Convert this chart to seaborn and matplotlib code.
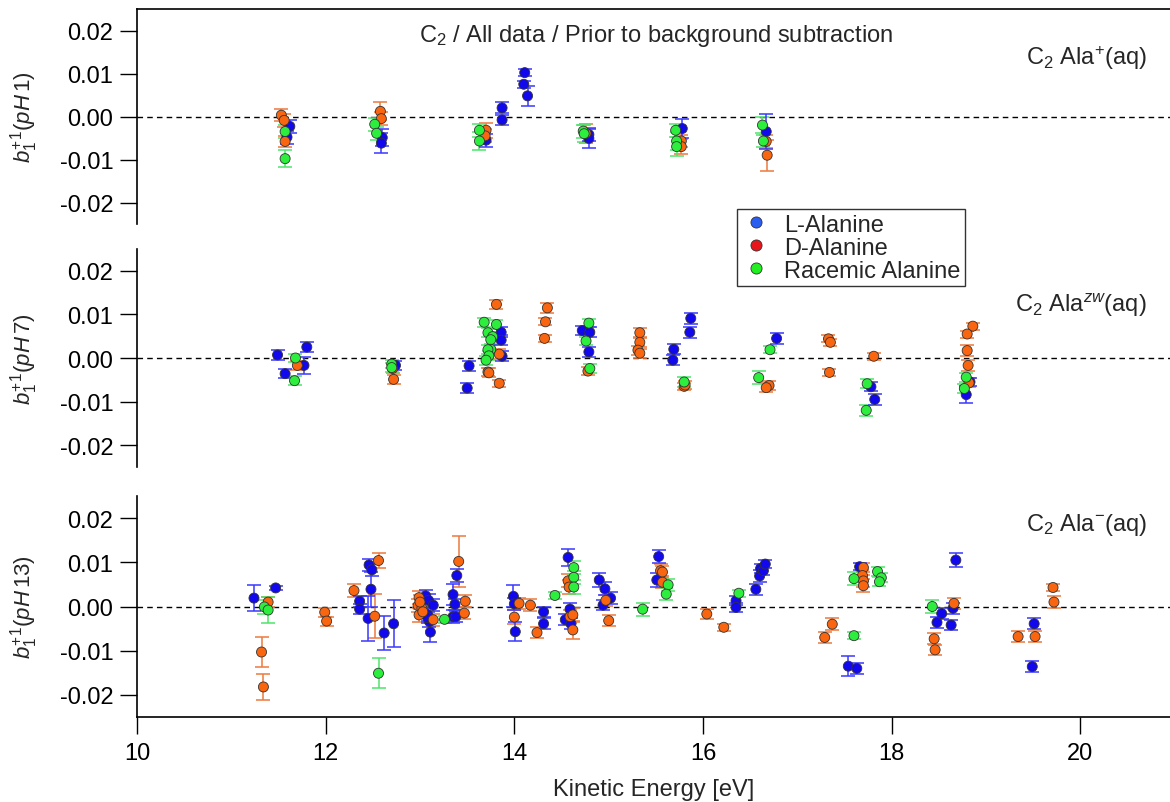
import matplotlib
matplotlib.use("Agg")
import matplotlib.pyplot as plt
from matplotlib.lines import Line2D
import seaborn as sns
import pandas as pd

# ---------------- data: (kinetic energy [eV], b1, error) ----------------
L_PH1 = [(11.62, -0.0023, 0.0015), (11.59, -0.0048, 0.0015), (12.60, -0.0049, 0.0020),
         (12.59, -0.0062, 0.0023), (13.70, -0.0055, 0.0015), (13.87, 0.0020, 0.0013),
         (13.87, -0.0008, 0.0012), (14.11, 0.0102, 0.0008), (14.10, 0.0075, 0.0008),
         (14.14, 0.0048, 0.0023), (14.79, -0.0042, 0.0015), (14.79, -0.0051, 0.0022),
         (15.78, -0.0028, 0.0022), (16.67, -0.0035, 0.0040)]
D_PH1 = [(11.53, 0.0003, 0.0014), (11.56, -0.0009, 0.0015), (11.57, -0.0058, 0.0012),
         (12.58, 0.0012, 0.0021), (12.59, -0.0005, 0.0015), (13.70, -0.0032, 0.0018),
         (13.69, -0.0045, 0.0015), (14.76, -0.0039, 0.0022), (15.77, -0.0057, 0.0015),
         (15.77, -0.0070, 0.0018), (16.67, -0.0058, 0.0015), (16.68, -0.0090, 0.0036)]
G_PH1 = [(11.57, -0.0035, 0.0015), (11.57, -0.0098, 0.0020), (12.52, -0.0018, 0.0015),
         (12.54, -0.0039, 0.0015), (13.63, -0.0032, 0.0015), (13.63, -0.0057, 0.0020),
         (14.73, -0.0034, 0.0015), (14.74, -0.0040, 0.0020), (15.71, -0.0032, 0.0015),
         (15.72, -0.0057, 0.0020), (15.72, -0.0070, 0.0022), (16.63, -0.0020, 0.0018),
         (16.64, -0.0057, 0.0015)]

L_PH7 = [(11.49, 0.0007, 0.0011), (11.57, -0.0036, 0.0011), (11.77, -0.0017, 0.0020),
         (11.80, 0.0025, 0.0011), (12.74, -0.0017, 0.0011), (13.52, -0.0018, 0.0011),
         (13.50, -0.0069, 0.0011), (13.86, 0.0059, 0.0011), (13.86, 0.0041, 0.0011),
         (13.87, 0.0004, 0.0011), (14.72, 0.0063, 0.0011), (14.80, 0.0059, 0.0011),
         (14.79, 0.0014, 0.0011), (15.69, 0.0020, 0.0011), (15.68, -0.0005, 0.0011),
         (15.87, 0.0091, 0.0012), (15.86, 0.0059, 0.0013), (16.78, 0.0045, 0.0013),
         (17.78, -0.0066, 0.0010), (17.82, -0.0095, 0.0012), (18.83, -0.0055, 0.0010),
         (18.79, -0.0084, 0.0020)]
D_PH7 = [(11.70, -0.0017, 0.0011), (12.71, -0.0024, 0.0010), (12.72, -0.0049, 0.0010),
         (13.81, 0.0123, 0.0010), (13.84, 0.0009, 0.0012), (13.72, -0.0032, 0.0010),
         (13.73, -0.0034, 0.0010), (13.84, -0.0058, 0.0008), (14.35, 0.0115, 0.0012),
         (14.33, 0.0083, 0.0008), (14.32, 0.0045, 0.0008), (14.78, -0.0030, 0.0010),
         (15.33, 0.0058, 0.0010), (15.33, 0.0036, 0.0010), (15.31, 0.0018, 0.0010),
         (15.33, 0.0011, 0.0010), (15.80, -0.0065, 0.0008), (15.81, -0.0062, 0.0010),
         (16.70, -0.0063, 0.0010), (16.67, -0.0068, 0.0010), (17.33, 0.0044, 0.0008),
         (17.35, 0.0036, 0.0008), (17.34, -0.0033, 0.0008), (17.81, 0.0004, 0.0008),
         (18.86, 0.0073, 0.0008), (18.80, 0.0055, 0.0008), (18.80, 0.0017, 0.0012),
         (18.81, -0.0017, 0.0012), (18.82, -0.0057, 0.0010)]
G_PH7 = [(11.68, 0.0000, 0.0010), (11.67, -0.0052, 0.0010), (12.70, -0.0014, 0.0010),
         (12.70, -0.0022, 0.0010), (13.68, 0.0082, 0.0010), (13.81, 0.0077, 0.0010),
         (13.72, 0.0058, 0.0010), (13.77, 0.0049, 0.0010), (13.75, 0.0042, 0.0010),
         (13.75, 0.0020, 0.0010), (13.72, 0.0019, 0.0010), (13.73, 0.0005, 0.0010),
         (13.70, -0.0005, 0.0010), (14.79, 0.0080, 0.0010), (14.76, 0.0039, 0.0010),
         (14.80, -0.0024, 0.0010), (15.80, -0.0055, 0.0012), (16.71, 0.0019, 0.0008),
         (16.59, -0.0045, 0.0015), (17.74, -0.0059, 0.0010), (17.73, -0.0120, 0.0012),
         (18.79, -0.0044, 0.0010), (18.77, -0.0070, 0.0010)]

L_PH13 = [(11.24, 0.0019, 0.0030), (11.47, 0.0042, 0.0005), (12.36, 0.0012, 0.0012),
          (12.36, -0.0006, 0.0012), (12.46, 0.0094, 0.0013), (12.49, 0.0083, 0.0013),
          (12.48, 0.0039, 0.0040), (12.45, -0.0027, 0.0050), (12.62, -0.0060, 0.0039),
          (12.72, -0.0039, 0.0053), (13.06, 0.0024, 0.0013), (13.09, 0.0014, 0.0015),
          (13.14, 0.0003, 0.0013), (13.08, -0.0018, 0.0015), (13.10, -0.0034, 0.0013),
          (13.11, -0.0058, 0.0022), (13.08, -0.0025, 0.0013), (13.35, 0.0027, 0.0023),
          (13.39, 0.0070, 0.0015), (13.37, 0.0005, 0.0013), (13.35, -0.0023, 0.0015),
          (13.38, -0.0023, 0.0013), (13.99, 0.0023, 0.0025), (14.00, 0.0006, 0.0013),
          (14.01, -0.0057, 0.0022), (14.31, -0.0012, 0.0012), (14.31, -0.0039, 0.0012),
          (14.57, 0.0111, 0.0020), (14.59, -0.0006, 0.0015), (14.54, -0.0030, 0.0012),
          (14.60, -0.0039, 0.0012), (14.90, 0.0060, 0.0015), (14.96, 0.0040, 0.0015),
          (15.02, 0.0019, 0.0013), (14.94, 0.0003, 0.0012), (15.53, 0.0113, 0.0015),
          (15.51, 0.0060, 0.0015), (16.35, 0.0013, 0.0010), (16.35, -0.0002, 0.0010),
          (16.56, 0.0039, 0.0013), (16.60, 0.0069, 0.0013), (16.61, 0.0086, 0.0010),
          (16.64, 0.0081, 0.0010), (16.66, 0.0096, 0.0010), (17.54, -0.0135, 0.0023),
          (17.63, -0.0140, 0.0012), (17.66, 0.0090, 0.0008), (18.53, -0.0016, 0.0012),
          (18.65, -0.0004, 0.0012), (18.48, -0.0036, 0.0012), (18.63, -0.0042, 0.0012),
          (18.68, 0.0105, 0.0015), (19.51, -0.0039, 0.0013), (19.49, -0.0136, 0.0012)]
D_PH13 = [(11.39, 0.0010, 0.0012), (11.32, -0.0103, 0.0034), (11.34, -0.0182, 0.0030),
          (11.99, -0.0013, 0.0010), (12.01, -0.0033, 0.0010), (12.30, 0.0036, 0.0015),
          (12.56, 0.0104, 0.0018), (12.52, -0.0022, 0.0050), (12.99, 0.0020, 0.0015),
          (12.98, 0.0002, 0.0015), (12.99, -0.0019, 0.0015), (13.02, -0.0004, 0.0015),
          (13.00, 0.0010, 0.0015), (13.03, -0.0012, 0.0013), (13.14, -0.0030, 0.0013),
          (13.41, 0.0102, 0.0058), (13.48, 0.0012, 0.0013), (13.47, -0.0015, 0.0013),
          (14.05, 0.0007, 0.0013), (14.00, -0.0024, 0.0015), (14.17, 0.0003, 0.0013),
          (14.24, -0.0059, 0.0012), (14.57, 0.0058, 0.0015), (14.58, 0.0044, 0.0015),
          (14.59, -0.0023, 0.0015), (14.62, -0.0019, 0.0015), (14.62, -0.0053, 0.0020),
          (14.97, 0.0014, 0.0013), (15.00, -0.0032, 0.0012), (15.55, 0.0081, 0.0015),
          (15.57, 0.0078, 0.0013), (15.57, 0.0055, 0.0013), (16.04, -0.0017, 0.0012),
          (16.22, -0.0047, 0.0008), (17.29, -0.0070, 0.0012), (17.37, -0.0040, 0.0013),
          (17.70, 0.0088, 0.0010), (17.69, 0.0070, 0.0013), (17.70, 0.0058, 0.0013),
          (17.70, 0.0047, 0.0015), (18.66, 0.0007, 0.0013), (18.45, -0.0073, 0.0012),
          (18.46, -0.0098, 0.0012), (19.34, -0.0068, 0.0012), (19.52, -0.0068, 0.0012),
          (19.71, 0.0043, 0.0008), (19.72, 0.0010, 0.0013)]
G_PH13 = [(11.35, -0.0001, 0.0015), (11.39, -0.0008, 0.0030), (12.56, -0.0151, 0.0034),
          (13.26, -0.0029, 0.0008), (14.43, 0.0025, 0.0008), (14.63, 0.0088, 0.0015),
          (14.63, 0.0066, 0.0015), (14.63, 0.0044, 0.0015), (15.36, -0.0006, 0.0015),
          (15.63, 0.0049, 0.0013), (15.61, 0.0028, 0.0013), (16.38, 0.0030, 0.0008),
          (17.60, -0.0066, 0.0008), (17.60, 0.0063, 0.0015), (17.85, 0.0079, 0.0010),
          (17.89, 0.0065, 0.0010), (17.87, 0.0056, 0.0010), (18.43, 0.0000, 0.0015)]

SERIES = ["L-Alanine", "D-Alanine", "Racemic Alanine"]
PANELS = ["pH1", "pH7", "pH13"]
YLABELS = [r"$b_1^{+1}(pH\,1)$", r"$b_1^{+1}(pH\,7)$", r"$b_1^{+1}(pH\,13)$"]
PANEL_TAGS = [r"C$_2$ Ala$^{+}$(aq)", r"C$_2$ Ala$^{zw}$(aq)", r"C$_2$ Ala$^{-}$(aq)"]
TITLE = r"C$_2$ / All data / Prior to background subtraction"
XLABEL = "Kinetic Energy [eV]"
YTICKS = [-0.02, -0.01, 0.0, 0.01, 0.02]
XTICKS = [10, 12, 14, 16, 18, 20]

# ---------------- build table ----------------
table = {"pH1": [L_PH1, D_PH1, G_PH1], "pH7": [L_PH7, D_PH7, G_PH7],
         "pH13": [L_PH13, D_PH13, G_PH13]}
rows = []
for p in PANELS:
    for s, pts in zip(SERIES, table[p]):
        for (x, y, e) in pts:
            rows.append({"panel": p, "series": s, "x": x, "y": y, "err": e})
df = pd.DataFrame(rows)

marker_col = {"L-Alanine": "#1208ee", "D-Alanine": "#fa650f", "Racemic Alanine": "#2cee3c"}
bar_col = {"L-Alanine": "#3a3aff", "D-Alanine": "#ee7a40", "Racemic Alanine": "#4ee46a"}
legend_col = {"L-Alanine": "#2a5ef0", "D-Alanine": "#e8161b", "Racemic Alanine": "#22ee22"}

FS = 17

# ---------------- style ----------------
sns.set_theme(style="ticks")
plt.rcParams["font.family"] = ["Liberation Sans", "DejaVu Sans"]
plt.rcParams["mathtext.fontset"] = "custom"
plt.rcParams["mathtext.rm"] = "Liberation Sans"
plt.rcParams["mathtext.it"] = "Liberation Sans:italic"
plt.rcParams["mathtext.bf"] = "Liberation Sans:bold"

W, H = 1170, 803
fig = plt.figure(figsize=(W / 100, H / 100), dpi=100)
left = 137 / W
width = 1 - left
boxes = [(10, 225), (250, 468), (497, 718)]
axes = []
for (t, b) in boxes:
    ax = fig.add_axes([left, 1 - b / H, width, (b - t) / H])
    axes.append(ax)

tag_y = [(225 - 58) / 215, (468 - 305) / 218, (718 - 525) / 221]
draw_order = ["D-Alanine", "Racemic Alanine", "L-Alanine"]
for i, (ax, p) in enumerate(zip(axes, PANELS)):
    sub = df[df.panel == p]
    ax.axhline(0, color="black", lw=1.0, ls=(0, (4, 3)), zorder=1)
    for k, s in enumerate(draw_order):
        ss = sub[sub.series == s]
        ax.errorbar(ss.x, ss.y, yerr=ss.err, fmt="none", ecolor=bar_col[s],
                    elinewidth=1.3, capsize=5, capthick=1.3, alpha=0.85, zorder=2 + k)
    sns.scatterplot(data=sub, x="x", y="y", hue="series", hue_order=draw_order,
                    palette=marker_col, s=52, edgecolor="#333333", linewidth=0.6,
                    legend=False, ax=ax, zorder=10)
    ax.set_xlim(10, 20.95)
    ax.set_ylim(-0.025, 0.025)
    ax.set_yticks(YTICKS)
    ax.set_yticklabels([f"{v:.2f}" for v in YTICKS])
    ax.tick_params(axis="y", direction="out", length=12, width=1.0, pad=5,
                   labelsize=FS, colors="black")
    ax.set_ylabel(YLABELS[i], fontsize=16)
    ax.yaxis.set_label_coords((40 - 137) / (W - 137), 0.5)
    ax.set_xlabel("")
    for sp in ["left", "right", "top", "bottom"]:
        ax.spines[sp].set_color("black")
        ax.spines[sp].set_linewidth(1.2)
    ax.spines["right"].set_visible(False)
    if i != 0:
        ax.spines["top"].set_visible(False)
    if i != 2:
        ax.spines["bottom"].set_visible(False)
        ax.tick_params(axis="x", bottom=False, labelbottom=False)
    ax.text((1147 - 137) / (W - 137), tag_y[i], PANEL_TAGS[i], transform=ax.transAxes,
            fontsize=FS, ha="right", va="center")

axes[0].text((656 - 137) / (W - 137), (225 - 36) / 215, TITLE, transform=axes[0].transAxes,
             fontsize=FS, ha="center", va="center")

axb = axes[2]
axb.set_xticks(XTICKS)
axb.set_xticklabels([str(v) for v in XTICKS])
axb.tick_params(axis="x", direction="out", length=12, width=1.0, pad=6,
                labelsize=FS, colors="black")
axb.set_xlabel(XLABEL, fontsize=FS, labelpad=10)

handles = [Line2D([0], [0], marker="o", ls="none", markersize=8,
                  markerfacecolor=legend_col[s], markeredgecolor="#333333",
                  markeredgewidth=0.6) for s in SERIES]
leg = fig.legend(handles, SERIES, loc="upper left", bbox_to_anchor=(737 / W, 1 - 210 / H),
                 frameon=True, fancybox=False, edgecolor="black", fontsize=FS,
                 borderpad=0.2, labelspacing=0.04, handletextpad=0.6, handlelength=1.2,
                 borderaxespad=0)
leg.get_frame().set_linewidth(1.0)
leg.set_zorder(20)

fig.savefig("out.png", dpi=100)
